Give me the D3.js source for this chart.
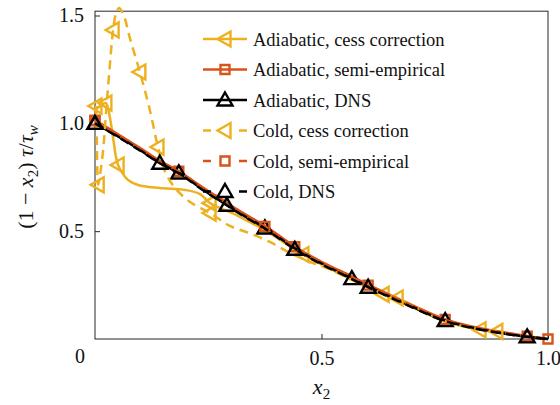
<!DOCTYPE html>
<html>
<head>
<meta charset="utf-8">
<script src="https://cdn.jsdelivr.net/npm/d3@7"></script>
<style>
  html, body { margin: 0; padding: 0; background: #fff; }
  #chart text, #chart tspan { font-family: "Liberation Serif", serif !important; }
</style>
</head>
<body>
<svg id="chart" width="560" height="405"></svg>
<script>
// Shear-stress profiles (1 - x2) tau / tau_w versus x2

// Adiabatic, cess correction
const adiCessX = [0, 0.011, 0.024, 0.033, 0.040, 0.046, 0.051, 0.060, 0.073, 0.095, 0.143, 0.199, 0.232, 0.254, 0.276, 0.302, 0.330, 0.375, 0.459, 0.567, 0.636, 0.700, 0.773, 0.850, 0.887];
const adiCessY = [1.062, 1.080, 1.094, 1.025, 0.932, 0.848, 0.807, 0.770, 0.737, 0.714, 0.700, 0.691, 0.672, 0.630, 0.607, 0.585, 0.555, 0.505, 0.392, 0.275, 0.207, 0.148, 0.081, 0.043, 0.033];
const adiCessMarks = [2, 6, 13, 18, 20, 23];

// Adiabatic, semi-empirical
const adiSemiX = [0, 0.05, 0.10, 0.143, 0.185, 0.24, 0.291, 0.33, 0.375, 0.441, 0.50, 0.567, 0.603, 0.70, 0.773, 0.85, 0.954, 1.0];
const adiSemiY = [1.015, 0.950, 0.885, 0.826, 0.778, 0.700, 0.631, 0.580, 0.525, 0.428, 0.358, 0.290, 0.252, 0.157, 0.091, 0.050, 0.014, 0.0];
const adiSemiMarks = [0, 4, 9, 14, 17];

// Adiabatic, DNS
const adiDnsX = [0, 0.05, 0.10, 0.143, 0.185, 0.24, 0.291, 0.33, 0.375, 0.441, 0.50, 0.567, 0.603, 0.70, 0.773, 0.85, 0.954, 1.0];
const adiDnsY = [1.000, 0.940, 0.875, 0.816, 0.770, 0.690, 0.621, 0.570, 0.515, 0.420, 0.350, 0.280, 0.243, 0.150, 0.085, 0.045, 0.010, 0.0];
const adiDnsMarks = [0, 4, 8, 11, 14];

// Cold, cess correction
const coldCessX = [0.002, 0.004, 0.007, 0.011, 0.018, 0.024, 0.031, 0.040, 0.046, 0.053, 0.064, 0.077, 0.099, 0.121, 0.139, 0.155, 0.177, 0.210, 0.254, 0.298, 0.342, 0.386, 0.430, 0.475, 0.512, 0.567, 0.630, 0.667, 0.773, 0.850, 0.887];
const coldCessY = [1.080, 0.920, 0.715, 0.760, 0.876, 1.040, 1.224, 1.433, 1.507, 1.535, 1.497, 1.395, 1.238, 1.062, 0.890, 0.774, 0.700, 0.635, 0.584, 0.524, 0.490, 0.450, 0.400, 0.357, 0.329, 0.274, 0.215, 0.190, 0.083, 0.046, 0.035];
const coldCessMarks = [0, 2, 7, 12, 14, 18, 27, 30];

// Cold, semi-empirical
const coldSemiX = [0, 0.05, 0.10, 0.143, 0.185, 0.24, 0.291, 0.33, 0.375, 0.441, 0.50, 0.567, 0.603, 0.70, 0.773, 0.85, 0.954, 1.0];
const coldSemiY = [1.012, 0.948, 0.882, 0.823, 0.775, 0.697, 0.628, 0.577, 0.522, 0.425, 0.355, 0.287, 0.250, 0.155, 0.089, 0.048, 0.013, 0.0];
const coldSemiMarks = [0, 8, 12, 16];

// Cold, DNS
const coldDnsX = [0, 0.05, 0.10, 0.143, 0.185, 0.24, 0.291, 0.33, 0.375, 0.441, 0.50, 0.567, 0.603, 0.70, 0.773, 0.85, 0.954, 1.0];
const coldDnsY = [1.000, 0.938, 0.873, 0.815, 0.768, 0.688, 0.620, 0.567, 0.512, 0.416, 0.347, 0.278, 0.240, 0.147, 0.083, 0.044, 0.010, 0.0];
const coldDnsMarks = [0, 3, 6, 9, 12, 16];

const legendLabels = ["Adiabatic, cess correction", "Adiabatic, semi-empirical", "Adiabatic, DNS",
                      "Cold, cess correction", "Cold, semi-empirical", "Cold, DNS"];
const xTicks = [0.5, 1.0];
const yTicks = [0.5, 1.0, 1.5];

const YELLOW = "#EDB120", ORANGE = "#D95319", BLACK = "#000000";
const FONT_STYLE = "font-family: 'Liberation Serif', serif !important;";

const series = [
  { name: legendLabels[0], xs: adiCessX,  ys: adiCessY,  marks: adiCessMarks,  color: YELLOW, dash: null,  marker: "left" },
  { name: legendLabels[1], xs: adiSemiX,  ys: adiSemiY,  marks: adiSemiMarks,  color: ORANGE, dash: null,  marker: "square" },
  { name: legendLabels[2], xs: adiDnsX,   ys: adiDnsY,   marks: adiDnsMarks,   color: BLACK,  dash: null,  marker: "up" },
  { name: legendLabels[3], xs: coldCessX, ys: coldCessY, marks: coldCessMarks, color: YELLOW, dash: "9,6", marker: "left" },
  { name: legendLabels[4], xs: coldSemiX, ys: coldSemiY, marks: coldSemiMarks, color: ORANGE, dash: "9,6", marker: "square" },
  { name: legendLabels[5], xs: coldDnsX,  ys: coldDnsY,  marks: coldDnsMarks,  color: BLACK,  dash: "9,6", marker: "up" }
];

const svg = d3.select("#chart");
const x = d3.scaleLinear().domain([0, 1]).range([95, 548]);
const y = d3.scaleLinear().domain([0, 1.5]).range([339, 15.5]);
const yTop = y(1.52);

const markerPaths = {
  up: "M0,-7.5L7.5,5.5L-7.5,5.5Z",
  left: "M-7.5,0L5.5,-7.5L5.5,7.5Z",
  square: "M-4.5,-4.5H4.5V4.5H-4.5Z"
};

// axes box
const axisColor = "#262626";
svg.append("rect")
  .attr("x", x(0)).attr("y", yTop)
  .attr("width", x(1) - x(0)).attr("height", y(0) - yTop)
  .attr("fill", "none").attr("stroke", axisColor).attr("stroke-width", 1);

// inward ticks, labels outside the box
const yAxis = svg.append("g")
  .attr("transform", `translate(${x(0)},0)`)
  .call(d3.axisLeft(y).tickValues(yTicks).tickFormat(d3.format(".1f")).tickSize(-5).tickPadding(11));
const xAxis = svg.append("g")
  .attr("transform", `translate(0,${y(0)})`)
  .call(d3.axisBottom(x).tickValues(xTicks).tickFormat(d3.format(".1f")).tickSize(-5).tickPadding(12));
[xAxis, yAxis].forEach(g => {
  g.attr("font-family", null).attr("font-size", 20);
  g.select(".domain").remove();
  g.selectAll(".tick line").attr("stroke", axisColor);
  g.selectAll(".tick text").attr("fill", "#111").attr("font-size", 20).attr("style", FONT_STYLE);
});
// shared origin label
svg.append("text").attr("x", 80).attr("y", 363).attr("text-anchor", "middle")
  .attr("style", FONT_STYLE).attr("fill", "#111").attr("font-size", 20).text("0");

// axis titles
svg.append("text")
  .attr("x", x(0.5)).attr("y", 394).attr("text-anchor", "middle")
  .attr("style", FONT_STYLE).attr("font-size", 22).attr("fill", "#111")
  .html('<tspan font-style="italic">x</tspan><tspan font-size="15" dy="5">2</tspan>');

svg.append("text")
  .attr("transform", "translate(33,177) rotate(-90)")
  .attr("text-anchor", "middle")
  .attr("style", FONT_STYLE).attr("font-size", 22).attr("fill", "#111")
  .html('(1 − <tspan font-style="italic">x</tspan><tspan font-size="15" dy="5">2</tspan><tspan dy="-5">) </tspan><tspan font-style="italic">τ</tspan>/<tspan font-style="italic">τ</tspan><tspan font-style="italic" font-size="15" dy="5">w</tspan>');

// data lines and markers
const line = d3.line()
  .x(d => x(d[0])).y(d => y(d[1]))
  .curve(d3.curveCatmullRom.alpha(0.5));

const plot = svg.append("g");
series.forEach(s => {
  const pts = s.xs.map((v, i) => [v, s.ys[i]]);
  const g = plot.append("g");
  g.append("path")
    .attr("d", line(pts))
    .attr("fill", "none")
    .attr("stroke", s.color)
    .attr("stroke-width", 2.5)
    .attr("stroke-linejoin", "round")
    .attr("stroke-dasharray", s.dash);
  g.selectAll("path.mk")
    .data(s.marks.map(i => pts[i]))
    .join("path")
    .attr("class", "mk")
    .attr("transform", d => `translate(${x(d[0])},${y(d[1])})`)
    .attr("d", markerPaths[s.marker])
    .attr("fill", "none")
    .attr("stroke", s.color)
    .attr("stroke-width", 2.4);
});

// legend
const legend = svg.append("g");
const rowY = [39, 69.5, 100, 130.5, 161, 191.5];
series.forEach((s, i) => {
  const g = legend.append("g").attr("transform", `translate(0,${rowY[i]})`);
  if (s.dash) {
    g.append("line").attr("x1", 203).attr("x2", 211).attr("y1", 0).attr("y2", 0)
      .attr("stroke", s.color).attr("stroke-width", 2.5);
    g.append("line").attr("x1", 239).attr("x2", 247).attr("y1", 0).attr("y2", 0)
      .attr("stroke", s.color).attr("stroke-width", 2.5);
  } else {
    g.append("line").attr("x1", 203).attr("x2", 247).attr("y1", 0).attr("y2", 0)
      .attr("stroke", s.color).attr("stroke-width", 2.5);
  }
  g.append("path").attr("transform", "translate(225,0)")
    .attr("d", markerPaths[s.marker])
    .attr("fill", "none").attr("stroke", s.color).attr("stroke-width", 2.4);
  g.append("text").attr("x", 253).attr("y", 6.5)
    .attr("style", FONT_STYLE).attr("font-size", 18.5).attr("fill", "#111").text(s.name);
});
</script>
</body>
</html>
